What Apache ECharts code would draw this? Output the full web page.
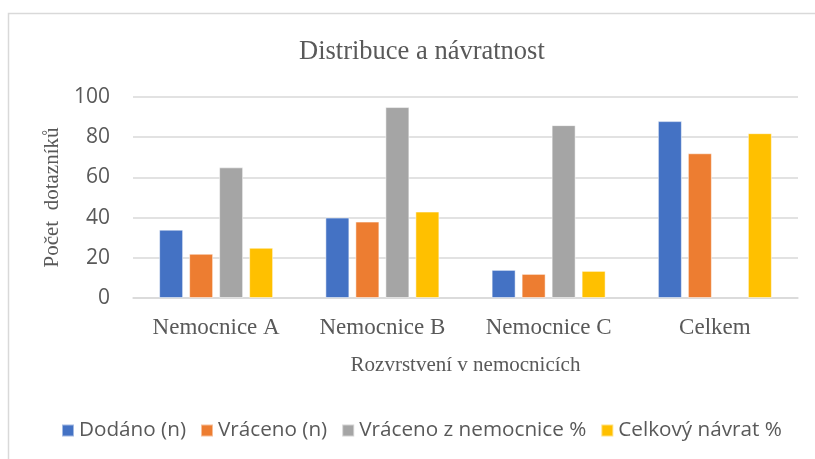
<!DOCTYPE html>
<html><head><meta charset="utf-8">
<script src="https://cdn.jsdelivr.net/npm/echarts@6/dist/echarts.min.js"></script>
<style>html,body{margin:0;padding:0;background:#fff}#c{width:815px;height:459px}</style>
</head><body><div id="c"></div>
<script>
const categories = ['Nemocnice A', 'Nemocnice B', 'Nemocnice C', 'Celkem'];
const dodano = [34, 40, 14, 88];
const vraceno = [22, 38, 12, 72];
const vracenoZNem = [65, 95, 86, null];
const celkovyNavrat = [25, 43, 13.5, 82];
const seriesNames = ['Dodáno (n)', 'Vráceno (n)', 'Vráceno z nemocnice %', 'Celkový návrat %'];
const colors = ['#4472C4', '#ED7D31', '#A5A5A5', '#FFC000'];
const yTicks = [0, 20, 40, 60, 80, 100];

const serif = '"Liberation Serif", "DejaVu Serif", serif';
const sans = '"Open Sans", "Noto Sans", sans-serif';
const txt = '#595959';
const chart = echarts.init(document.getElementById('c'));
const allData = [dodano, vraceno, vracenoZNem, celkovyNavrat];
chart.setOption({
  animation: false,
  color: colors,
  title: {
    text: 'Distribuce a návratnost', left: 294, top: 34,
    textStyle: { fontFamily: serif, fontSize: 26.5, fontWeight: 'normal', color: txt }
  },
  graphic: [
    { type: 'polyline', shape: { points: [[8.5, 470], [8.5, 13.5], [830, 13.5]] },
      style: { stroke: '#D9D9D9', lineWidth: 1.5, fill: null } }
  ],
  legend: {
    top: 415, left: 56, itemWidth: 12, itemHeight: 12, itemGap: 14,
    icon: 'rect',
    textStyle: { fontFamily: sans, fontSize: 20.7, color: txt },
    data: seriesNames
  },
  grid: { left: 133, right: 17, top: 97, bottom: 161 },
  xAxis: {
    type: 'category', data: categories,
    axisLine: { lineStyle: { color: '#D9D9D9', width: 1.5 } },
    axisTick: { show: false },
    axisLabel: { fontFamily: serif, fontSize: 23, color: txt, margin: 18 },
    name: 'Rozvrstvení v nemocnicích', nameLocation: 'middle', nameGap: 57,
    nameTextStyle: { fontFamily: serif, fontSize: 21, color: txt }
  },
  yAxis: {
    type: 'value', min: yTicks[0], max: yTicks[yTicks.length - 1], interval: 20,
    axisLine: { show: false }, axisTick: { show: false },
    splitLine: { lineStyle: { color: '#D9D9D9', width: 1.5 } },
    axisLabel: { fontFamily: sans, fontSize: 21, color: txt, margin: 23 },
    name: 'Počet  dotazníků', nameLocation: 'middle', nameGap: 62,
    nameTextStyle: { fontFamily: serif, fontSize: 21, color: txt }
  },
  series: seriesNames.map((n, i) => ({
    name: n, type: 'bar', data: allData[i], barWidth: 24, barGap: '25%',
    itemStyle: { borderColor: 'rgba(255,255,255,0.5)', borderWidth: 1 }
  }))
});
</script></body></html>
